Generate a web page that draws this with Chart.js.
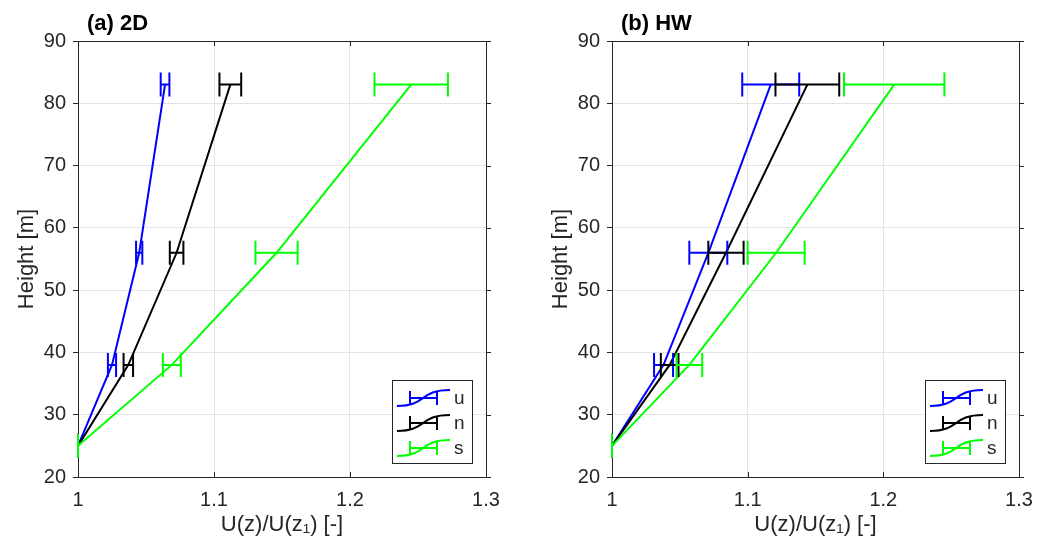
<!DOCTYPE html>
<html>
<head>
<meta charset="utf-8">
<script src="https://cdn.jsdelivr.net/npm/chart.js@4"></script>
<style>
  body{margin:0;background:#fff;}
  .wrap{position:relative;width:1046px;height:550px;}
  canvas{position:absolute;top:0;}
</style>
</head>
<body>
<div class="wrap">
  <canvas id="chart2D" width="523" height="550" style="left:0"></canvas>
  <canvas id="chartHW" width="523" height="550" style="left:523px"></canvas>
</div>
<script>
// heights of the measurement levels [m]
const heights = [25, 38, 56, 83];

// (a) 2D: mean U(z)/U(z1) and half-width of the error bar
const u2D    = [1.000, 1.025, 1.045, 1.064];
const u2DErr = [0.000, 0.003, 0.0023, 0.0032];
const n2D    = [1.000, 1.037, 1.0725, 1.112];
const n2DErr = [0.000, 0.0035, 0.005, 0.008];
const s2D    = [1.000, 1.069, 1.146, 1.245];
const s2DErr = [0.000, 0.0066, 0.0155, 0.027];

// (b) HW
const uHW    = [1.000, 1.038, 1.071, 1.117];
const uHWErr = [0.000, 0.007, 0.014, 0.021];
const nHW    = [1.000, 1.0425, 1.084, 1.144];
const nHWErr = [0.000, 0.0065, 0.013, 0.0235];
const sHW    = [1.000, 1.057, 1.121, 1.208];
const sHWErr = [0.000, 0.0095, 0.021, 0.037];

const seriesLabels = ["u", "n", "s"];
const seriesColors = ["#0000ff", "#000000", "#00ff00"];

const xTicks = [1, 1.1, 1.2, 1.3];
const yTicks = [20, 30, 40, 50, 60, 70, 80, 90];

const axisColor = "#262626";
const gridColor = "#e3e3e3";
const fontFamily = "'Liberation Sans', Arial, sans-serif";

function points(xs){
    return xs.map((v,i)=>({x:v, y:heights[i]}));
}

// horizontal error bars, drawn through the chart scales
const errorBars = {
    id:"errorBars",
    afterDatasetsDraw(chart){
        const {ctx, scales:{x, y}} = chart;
        ctx.save();
        ctx.lineWidth = 2;
        chart.data.datasets.forEach(ds=>{
            ctx.strokeStyle = ds.borderColor;
            ds.data.forEach((p,j)=>{
                const e = ds.errors[j];
                const x1 = x.getPixelForValue(p.x - e);
                const x2 = x.getPixelForValue(p.x + e);
                const py = y.getPixelForValue(p.y);
                ctx.beginPath();
                ctx.moveTo(x1, py); ctx.lineTo(x2, py);
                ctx.moveTo(x1, py - 12); ctx.lineTo(x1, py + 12);
                ctx.moveTo(x2, py - 12); ctx.lineTo(x2, py + 12);
                ctx.stroke();
            });
        });
        ctx.restore();
    }
};

// axes box, ticks, panel title and legend
const frame = {
    id:"frame",
    beforeDatasetsDraw(chart){
        const {ctx, chartArea:a, scales:{x, y}} = chart;
        ctx.save();
        ctx.strokeStyle = axisColor;
        ctx.lineWidth = 1;
        ctx.strokeRect(a.left + 0.5, a.top + 0.5, a.right - a.left, a.bottom - a.top);
        ctx.beginPath();
        xTicks.forEach(t=>{
            const px = Math.round(x.getPixelForValue(t)) + 0.5;
            ctx.moveTo(px, a.bottom); ctx.lineTo(px, a.bottom - 5);
            ctx.moveTo(px, a.top); ctx.lineTo(px, a.top + 5);
        });
        yTicks.forEach(t=>{
            const py = Math.round(y.getPixelForValue(t)) + 0.5;
            ctx.moveTo(a.right, py); ctx.lineTo(a.right + 5, py);
        });
        ctx.stroke();
        ctx.restore();
    },
    afterDraw(chart, args, opts){
        const {ctx, chartArea:a} = chart;
        ctx.save();
        // title
        ctx.fillStyle = "#000";
        ctx.font = "bold 22px " + fontFamily;
        ctx.textBaseline = "alphabetic";
        ctx.textAlign = "left";
        ctx.fillText(opts.title, a.left + 9, 30);

        // legend
        const bx = a.right - 94, by = a.bottom - 97, bw = 80, bh = 83;
        ctx.fillStyle = "#fff";
        ctx.fillRect(bx, by, bw, bh);
        ctx.strokeStyle = axisColor;
        ctx.lineWidth = 1;
        ctx.strokeRect(bx + 0.5, by + 0.5, bw, bh);
        chart.data.datasets.forEach((ds,i)=>{
            const cy = by + 18 + i * 25;
            const x0 = bx + 5;
            ctx.strokeStyle = ds.borderColor;
            ctx.lineWidth = 2;
            ctx.beginPath();
            ctx.moveTo(x0, cy + 8);
            ctx.bezierCurveTo(x0 + 30, cy + 8, x0 + 22, cy - 8, x0 + 53, cy - 8);
            ctx.moveTo(x0 + 13, cy); ctx.lineTo(x0 + 40, cy);
            ctx.moveTo(x0 + 13, cy - 7); ctx.lineTo(x0 + 13, cy + 7);
            ctx.moveTo(x0 + 40, cy - 7); ctx.lineTo(x0 + 40, cy + 7);
            ctx.stroke();
            ctx.fillStyle = axisColor;
            ctx.font = "19px " + fontFamily;
            ctx.textBaseline = "middle";
            ctx.fillText(ds.label, bx + 62, cy + 1);
        });
        ctx.restore();
    }
};

function makeChart(id, title, series, errs, padLeft, padRight){
    return new Chart(document.getElementById(id), {
        type:"line",
        data:{
            datasets: series.map((s,i)=>({
                label:seriesLabels[i],
                data:points(s),
                errors:errs[i],
                borderColor:seriesColors[i],
                backgroundColor:seriesColors[i],
                borderWidth:2,
                pointRadius:0,
                tension:0,
                order:2 - i
            }))
        },
        options:{
            responsive:false,
            animation:false,
            layout:{padding:{left:padLeft, right:padRight, top:41, bottom:0}},
            plugins:{
                legend:{display:false},
                tooltip:{enabled:false},
                frame:{title:title}
            },
            scales:{
                x:{
                    type:"linear",
                    min:1, max:1.3,
                    afterBuildTicks(scale){ scale.ticks = xTicks.map(v=>({value:v})); },
                    afterFit(scale){ scale.height = 73; },
                    ticks:{
                        color:axisColor,
                        font:{family:fontFamily, size:20},
                        padding:11,
                        callback:v => String(+v.toFixed(1))
                    },
                    grid:{color:gridColor, drawTicks:false},
                    border:{display:false},
                    title:{
                        display:true,
                        text:"U(z)/U(z\u2081) [-]",
                        color:axisColor,
                        font:{family:fontFamily, size:22},
                        padding:{top:0, bottom:12}
                    }
                },
                y:{
                    type:"linear",
                    min:20, max:90,
                    afterBuildTicks(scale){ scale.ticks = yTicks.map(v=>({value:v})); },
                    afterFit(scale){ scale.width = 78; },
                    ticks:{
                        color:axisColor,
                        font:{family:fontFamily, size:20},
                        padding:7
                    },
                    grid:{color:gridColor, tickLength:5, tickColor:axisColor},
                    border:{display:false},
                    title:{
                        display:true,
                        text:"Height [m]",
                        color:axisColor,
                        font:{family:fontFamily, size:22},
                        padding:{top:14, bottom:0}
                    }
                }
            }
        },
        plugins:[frame, errorBars]
    });
}

makeChart("chart2D", "(a) 2D", [u2D, n2D, s2D], [u2DErr, n2DErr, s2DErr], 0, 37);
makeChart("chartHW", "(b) HW", [uHW, nHW, sHW], [uHWErr, nHWErr, sHWErr], 11, 27);
</script>
</body>
</html>
